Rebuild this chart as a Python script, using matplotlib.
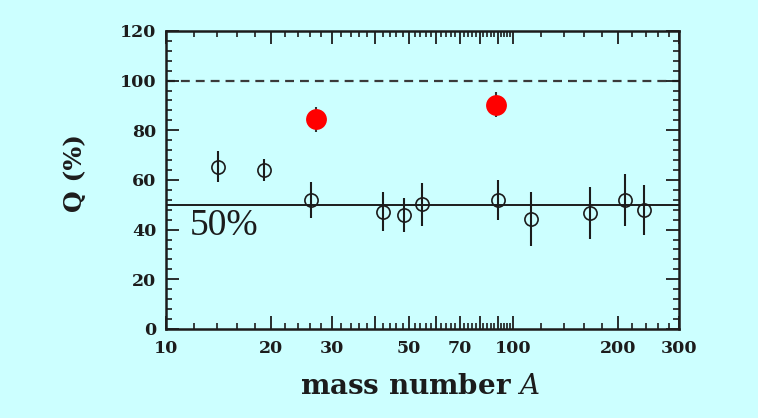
import matplotlib
matplotlib.use("Agg")
import matplotlib.pyplot as plt
from matplotlib.ticker import FixedLocator, NullFormatter, FixedFormatter

# data
A_open = [14.1, 19.1, 26.2, 42.2, 48.4, 54.6, 90.0, 112.0, 166.0, 209.0, 238.0]
Q_open = [65.3, 64.0, 51.9, 47.2, 45.9, 50.2, 51.9, 44.3, 46.6, 51.9, 47.9]
err_open = [6.3, 4.3, 7.2, 7.8, 6.9, 8.7, 8.2, 10.7, 10.5, 10.5, 10.0]

A_red = [27.0, 89.0]
Q_red = [84.4, 90.3]
err_red = [5.0, 5.0]

x_major = [10, 20, 30, 40, 50, 60, 70, 80, 90, 100, 200, 300]
x_labels = ["10", "20", "30", "", "50", "", "70", "", "", "100", "200", "300"]
x_minor = [v for v in range(12, 100, 2) if v % 10 != 0] + [v for v in range(120, 300, 20) if v % 100 != 0]

bg = "#ccffff"
ink = "#1c1c1c"

plt.rcParams["mathtext.fontset"] = "dejavuserif"

fig = plt.figure(figsize=(7.58, 4.18), dpi=100, facecolor=bg)
ax = fig.add_axes([0.219, 0.213, 0.677, 0.713])
ax.set_facecolor(bg)

ax.set_xscale("log")
ax.set_xlim(10, 300)
ax.set_ylim(0, 120)

ax.axhline(100, color="#3a3a3a", lw=1.6, ls=(0, (4, 2.7)), zorder=1)
ax.axhline(50, color=ink, lw=1.4, zorder=1)

ax.errorbar(A_open, Q_open, yerr=err_open, fmt="o", ms=9.5, mfc="none",
            mec=ink, mew=1.2, ecolor=ink, elinewidth=1.5, capsize=0, zorder=3)
ax.errorbar(A_red, Q_red, yerr=err_red, fmt="none", ecolor="#333333",
            elinewidth=1.5, capsize=0, zorder=3)
ax.plot(A_red, Q_red, "o", ms=15, color="#ff0000", mec="none", zorder=4)

ax.text(0.047, 0.346, "50%", transform=ax.transAxes, ha="left", va="center",
        fontsize=27, family="Liberation Serif", color=ink)

# ticks
ax.xaxis.set_major_locator(FixedLocator(x_major))
ax.xaxis.set_major_formatter(FixedFormatter(x_labels))
ax.xaxis.set_minor_locator(FixedLocator(x_minor))
ax.xaxis.set_minor_formatter(NullFormatter())
ax.yaxis.set_major_locator(FixedLocator(range(0, 121, 20)))
ax.yaxis.set_minor_locator(FixedLocator(range(0, 121, 4)))

ax.tick_params(which="both", direction="in", top=True, right=True, color=ink)
ax.tick_params(which="major", length=9.5, width=1.3)
ax.tick_params(which="minor", length=4.5, width=1.2)
ax.tick_params(axis="x", which="major", pad=8)
ax.tick_params(axis="y", which="major", pad=7)
for lab in ax.get_xticklabels() + ax.get_yticklabels():
    lab.set_family("DejaVu Serif")
    lab.set_fontweight("bold")
    lab.set_fontsize(12.5)
    lab.set_color(ink)

for sp in ax.spines.values():
    sp.set_linewidth(1.8)
    sp.set_color(ink)

fig.text(420 / 758, 1 - 386 / 418, r"mass number $\mathit{A}$", ha="center", va="center",
         fontsize=20, family="DejaVu Serif", fontweight="bold", color=ink)
fig.text(75 / 758, 1 - 173 / 418, "Q (%)", ha="center", va="center", rotation=90,
         fontsize=18, family="DejaVu Serif", fontweight="bold", color=ink)

fig.savefig("out.png", dpi=100, facecolor=bg)
